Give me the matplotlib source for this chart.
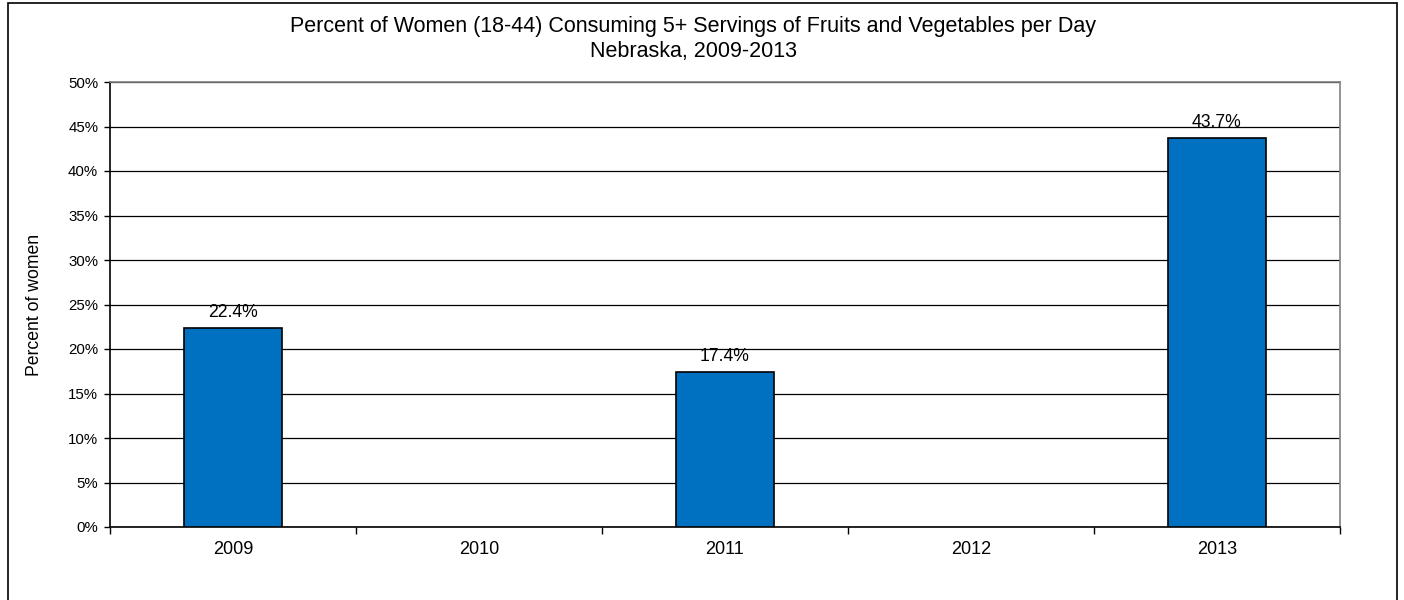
import matplotlib.pyplot as plt
import matplotlib.patches as mpatches
from matplotlib.ticker import MultipleLocator, FuncFormatter

plt.rcParams['font.family'] = ['Liberation Sans', 'DejaVu Sans']

# --- data --------------------------------------------------------------------
years = ['2009', '2010', '2011', '2012', '2013']
pctWomen = [22.4, None, 17.4, None, 43.7]
titleLines = ['Percent of Women (18-44) Consuming 5+ Servings of Fruits and Vegetables per Day',
              'Nebraska, 2009-2013']

# --- figure ------------------------------------------------------------------
W, H = 1404, 600
fig = plt.figure(figsize=(W / 100, H / 100), dpi=100)
fig.patches.append(mpatches.Rectangle((8 / W, -0.01), 1389 / W, 1.01 - 3 / H,
                                      transform=fig.transFigure, fill=False,
                                      lw=1.2, ec='k'))

x0, x1, y0, y1 = 110, 1340, 527, 82
ax = fig.add_axes([x0 / W, 1 - y0 / H, (x1 - x0) / W, (y0 - y1) / H])

xs = [i for i, v in enumerate(pctWomen) if v is not None]
vals = [v for v in pctWomen if v is not None]
ax.bar(xs, vals, width=0.4, color='#0070C0', edgecolor='k', lw=1.2, zorder=3)
for xi, v in zip(xs, vals):
    ax.annotate(f'{v:.1f}%', (xi, v), xytext=(0, 8), textcoords='offset points',
                ha='center', va='baseline', fontsize=12.7, zorder=4)

ax.set_xlim(-0.5, len(years) - 0.5)
ax.set_ylim(0, 50)
ax.yaxis.set_major_locator(MultipleLocator(5))
ax.yaxis.set_major_formatter(FuncFormatter(lambda v, p: f'{v:.0f}%'))
ax.grid(axis='y', color='k', lw=0.9, zorder=0)

ax.set_xticks(range(len(years)))
ax.set_xticklabels(years, fontsize=13)
ax.set_xticks([i - 0.5 for i in range(len(years) + 1)], minor=True)
ax.tick_params(axis='x', which='major', length=0, pad=10)
ax.tick_params(axis='x', which='minor', length=5, width=1, direction='out')
ax.tick_params(axis='y', length=4.5, width=1, labelsize=10.8, pad=4)

for s in ['left', 'bottom']:
    ax.spines[s].set_color('k')
    ax.spines[s].set_linewidth(1.2)
for s in ['top', 'right']:
    ax.spines[s].set_color('#808080')
    ax.spines[s].set_linewidth(1.2)

ax.set_ylabel('Percent of women', fontsize=12.7)
ax.yaxis.set_label_coords(-(x0 - 43) / (x1 - x0), 0.5)

fig.text(693 / W, 1 - 32 / H, titleLines[0], ha='center', va='baseline', fontsize=15.5)
fig.text(693 / W, 1 - 57 / H, titleLines[1], ha='center', va='baseline', fontsize=15.5)

fig.savefig('out.png', dpi=100)
